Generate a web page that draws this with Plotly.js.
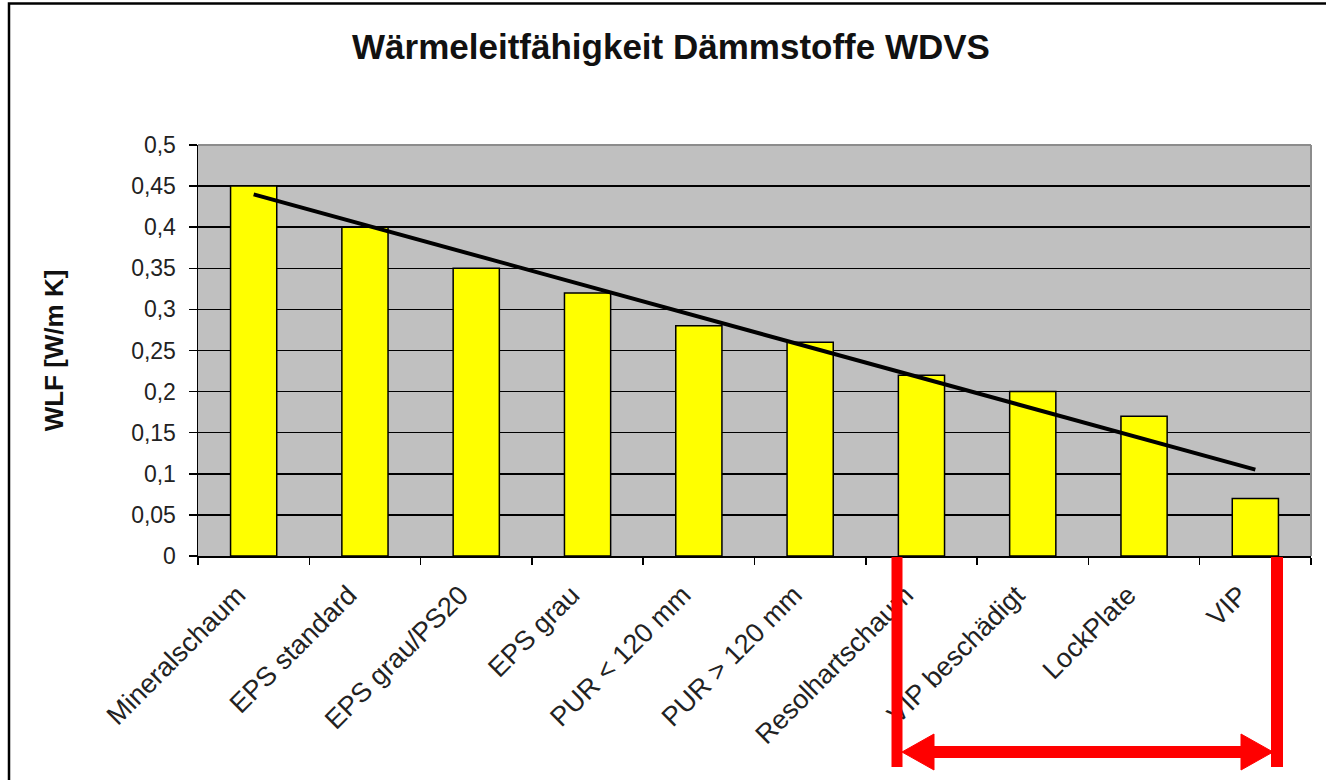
<!DOCTYPE html>
<html>
<head>
<meta charset="utf-8">
<script src="https://cdn.plot.ly/plotly-3.0.1.min.js"></script>
<style>html,body{margin:0;padding:0;background:#fff;}#chart{width:1326px;height:780px;}</style>
</head>
<body>
<div id="chart"></div>
<script>
const categories = ["Mineralschaum", "EPS standard", "EPS grau/PS20", "EPS grau", "PUR < 120 mm", "PUR > 120 mm", "Resolhartschaum", "VIP beschädigt", "LockPlate", "VIP"];
const wlfValues = [0.45, 0.40, 0.35, 0.32, 0.28, 0.26, 0.22, 0.20, 0.17, 0.07];
const trendCategories = ["Mineralschaum", "VIP"];
const trendValues = [0.44, 0.105];
const chartTitle = "Wärmeleitfähigkeit Dämmstoffe WDVS";
const yTitle = "WLF [W/m K]";

const W = 1326, H = 780;
const M = {l: 198, r: 15, t: 145, b: 224};
const PW = W - M.l - M.r, PH = H - M.t - M.b;
const px = x => (x - M.l) / PW;
const py = y => (H - M.b - y) / PH;

const font = "Liberation Sans, Arial, sans-serif";

const traces = [
  {
    type: "bar",
    x: categories,
    y: wlfValues,
    marker: {color: "#FFFF00", line: {color: "#000000", width: 1.5}},
    hoverinfo: "x+y"
  },
  {
    type: "scatter",
    mode: "lines",
    x: trendCategories,
    y: trendValues,
    line: {color: "#000000", width: 4},
    hoverinfo: "skip"
  }
];

const red = "#FF0000";
const shapes = [
  // outer chart border
  {type: "rect", xref: "paper", yref: "paper", x0: px(9), x1: px(1345), y0: py(3.5), y1: py(800), line: {color: "#000", width: 2.5}, layer: "above"},
  // plot area top/right edge (gray)
  {type: "line", xref: "paper", yref: "paper", x0: 0, x1: 1, y0: 1, y1: 1, line: {color: "#8c8c8c", width: 2}, layer: "above"},
  {type: "line", xref: "paper", yref: "paper", x0: 1, x1: 1, y0: 0, y1: 1, line: {color: "#8c8c8c", width: 2}, layer: "above"},
  // red bracket
  {type: "line", xref: "paper", yref: "paper", x0: px(897), x1: px(897), y0: py(557), y1: py(767), line: {color: red, width: 11}},
  {type: "line", xref: "paper", yref: "paper", x0: px(1277), x1: px(1277), y0: py(557), y1: py(767), line: {color: red, width: 12}},
  {type: "line", xref: "paper", yref: "paper", x0: px(925), x1: px(1250), y0: py(752), y1: py(752), line: {color: red, width: 12}},
  {type: "path", xref: "paper", yref: "paper",
   path: `M ${px(902)} ${py(752)} L ${px(934)} ${py(734)} L ${px(934)} ${py(770)} Z`,
   fillcolor: red, line: {color: red, width: 1}},
  {type: "path", xref: "paper", yref: "paper",
   path: `M ${px(1273)} ${py(752)} L ${px(1241)} ${py(734)} L ${px(1241)} ${py(770)} Z`,
   fillcolor: red, line: {color: red, width: 1}}
];

const layout = {
  width: W, height: H,
  margin: M,
  paper_bgcolor: "#ffffff",
  plot_bgcolor: "#C0C0C0",
  showlegend: false,
  separators: ", ",
  bargap: 0.585,
  font: {family: font, color: "#222"},
  title: {
    text: chartTitle,
    font: {family: font, size: 35, color: "#111", weight: "bold"},
    x: 671 / W, xref: "container", xanchor: "center",
    y: 1 - 47 / H, yref: "container", yanchor: "middle"
  },
  xaxis: {
    type: "category",
    tickangle: -45,
    tickson: "boundaries",
    ticks: "outside", ticklen: 7, tickwidth: 1.5, tickcolor: "#000",
    showline: true, linecolor: "#000", linewidth: 1.5,
    showgrid: false,
    ticklabelshift: -16,
    ticklabelstandoff: 11,
    tickfont: {family: font, size: 27, color: "#222"},
    automargin: false
  },
  yaxis: {
    range: [0, 0.5],
    dtick: 0.05,
    tick0: 0,
    ticks: "outside", ticklen: 8, tickwidth: 1.5, tickcolor: "#000",
    showline: true, linecolor: "#000", linewidth: 1.5,
    showgrid: true, gridcolor: "#000", gridwidth: 1.5,
    zeroline: false,
    ticklabelstandoff: 8,
    tickfont: {family: font, size: 23, color: "#222"},
    title: {text: yTitle, font: {family: font, size: 26, color: "#111", weight: "bold"}, standoff: 60},
    automargin: false
  },
  shapes: shapes
};

Plotly.newPlot("chart", traces, layout, {displayModeBar: false, staticPlot: true});
</script>
</body>
</html>
